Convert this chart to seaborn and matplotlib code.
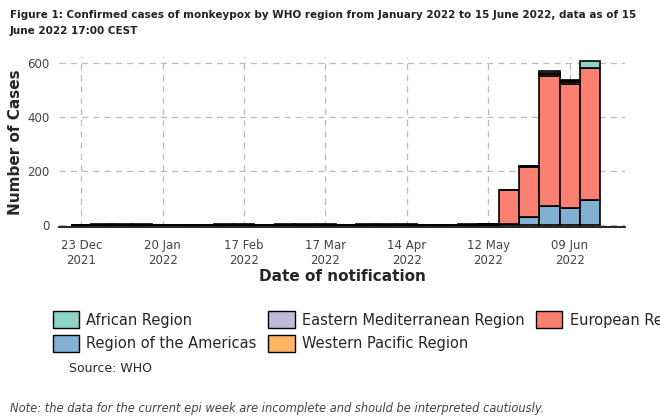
import numpy
import pandas
import seaborn
import matplotlib.pyplot as pyplot
import matplotlib.dates as mdates
from matplotlib.patches import Patch

seaborn.set(style="white")

# weekly counts, week k centred on 23 Dec 2021 + 7k days (k = 0..25)
week_start = pandas.Timestamp("2021-12-23")
african = [0, 1, 1, 1, 0, 0, 0, 1, 1, 0, 1, 1, 1, 0, 1, 1, 1, 0, 0, 1, 1, 0, 2, 6, 3, 24]
eastern_med = [0] * 21 + [0, 1, 4, 5, 0]
western_pacific = [0] * 21 + [0, 1, 6, 8, 0]
european = [0] * 20 + [2, 127, 186, 484, 462, 492]
americas = [0] * 20 + [0, 3, 30, 71, 61, 92]

regions = ["African Region", "Eastern Mediterranean Region", "Western Pacific Region",
           "European Region", "Region of the Americas"]
colors = {"African Region": "#8dd3c7", "Eastern Mediterranean Region": "#bebada",
          "European Region": "#fb8072", "Region of the Americas": "#80b1d3",
          "Western Pacific Region": "#fdb462"}
series = [african, eastern_med, western_pacific, european, americas]

rows = []
for region, values in zip(regions, series):
    for k, v in enumerate(values):
        rows.append({"date": mdates.date2num(week_start + pandas.Timedelta(days=7 * k)),
                     "region": region, "cases": v})
data = pandas.DataFrame(rows)

start = mdates.date2num(week_start)
edges = [start - 3.5 + 7 * i for i in range(27)]

fig = pyplot.figure(figsize=(6.6, 4.2), dpi=100)
ax = fig.add_axes([0.09, 0.46, 0.857, 0.405])
seaborn.histplot(data=data, x="date", weights="cases", hue="region", hue_order=regions,
                 multiple="stack", bins=edges, palette=colors, alpha=1,
                 edgecolor="black", linewidth=1.2, legend=False, ax=ax)

ticks = [mdates.date2num(pandas.Timestamp(d)) for d in
         ["2021-12-23", "2022-01-20", "2022-02-17", "2022-03-17", "2022-04-14", "2022-05-12", "2022-06-09"]]
ax.set_xticks(ticks)
ax.set_xticklabels(["23 Dec\n2021", "20 Jan\n2022", "17 Feb\n2022", "17 Mar\n2022",
                    "14 Apr\n2022", "12 May\n2022", "09 Jun\n2022"], fontsize=8.5, color="#444444")
ax.set_yticks([0, 200, 400, 600])
ax.tick_params(axis="y", labelsize=8.5, labelcolor="#444444", pad=1)
ax.tick_params(axis="x", pad=3)
ax.set_xlim(start - 7.5, start + 25 * 7 + 12)
ax.set_ylim(-8, 625)
ax.grid(True, linestyle=(0, (5, 4)), color="#bbbbbb", linewidth=0.9)
ax.set_axisbelow(True)
for s in ["top", "right", "left"]:
    ax.spines[s].set_visible(False)
ax.spines["bottom"].set_color("black")
ax.spines["bottom"].set_linewidth(1.2)
ax.set_xlabel("Date of notification", fontsize=11, fontweight="bold", labelpad=1)
ax.set_ylabel("Number of Cases", fontsize=11, fontweight="bold", labelpad=3)

fig.text(0.015, 0.975, "Figure 1: Confirmed cases of monkeypox by WHO region from January 2022 to 15 June 2022, data as of 15\nJune 2022 17:00 CEST",
         fontsize=7.5, fontweight="bold", va="top", color="#222222", linespacing=1.7)

# column-major order so rows read: African, Eastern Med, European / Americas, Western Pacific
legend_order = ["African Region", "Region of the Americas", "Eastern Mediterranean Region",
                "Western Pacific Region", "European Region"]
handles = [Patch(facecolor=colors[r], edgecolor="black", linewidth=1) for r in legend_order]
fig.legend(handles, legend_order, loc="upper left", bbox_to_anchor=(0.06, 0.29), ncol=3,
           frameon=False, fontsize=10.5, handlelength=1.8, handleheight=1.4,
           columnspacing=0.8, handletextpad=0.5, labelspacing=0.45)
fig.text(0.105, 0.115, "Source: WHO", fontsize=9)
fig.text(0.015, 0.02, "Note: the data for the current epi week are incomplete and should be interpreted cautiously.",
         fontsize=8.3, style="italic", color="#444444")

fig.savefig("out.png", dpi=100)
